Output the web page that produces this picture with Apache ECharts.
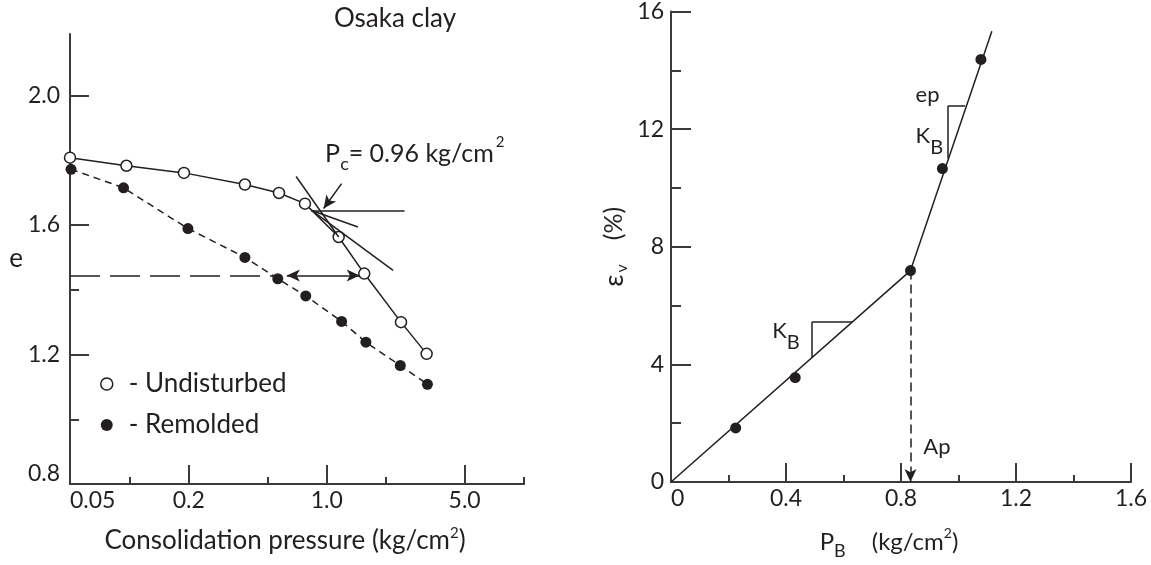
<!DOCTYPE html>
<html>
<head>
<meta charset="utf-8">
<script src="https://cdn.jsdelivr.net/npm/echarts@6/dist/echarts.min.js"></script>
<style>
  html, body { margin: 0; padding: 0; background: #fff; }
  #chart { width: 1151px; height: 565px; }
</style>
</head>
<body>
<div id="chart"></div>
<script>
// ---- Osaka clay: void ratio vs consolidation pressure (log scale) ----
const pUndisturbed = [0.05, 0.0966, 0.189, 0.385, 0.573, 0.776, 1.15, 1.55, 2.38, 3.21];
const eUndisturbed = [1.808, 1.783, 1.761, 1.725, 1.699, 1.666, 1.563, 1.450, 1.300, 1.202];
const pRemolded = [0.0506, 0.0934, 0.198, 0.385, 0.565, 0.783, 1.19, 1.58, 2.36, 3.24];
const eRemolded = [1.772, 1.715, 1.589, 1.500, 1.434, 1.381, 1.302, 1.238, 1.166, 1.108];

// pressure axis ticks / labels
const pMajorTicks = [0.2, 1, 5];
const pMinorTicks = [0.1, 0.5, 2, 10];
const pLabelValues = [0.05, 0.2, 1, 5];
const pLabelTexts = ['0.05', '0.2', '1.0', '5.0'];
const eMajorTicks = [0.8, 1.2, 1.6, 2.0];
const eMinorTicks = [1.0, 1.4];

// Casagrande construction for preconsolidation pressure
const pcValue = 0.96;
const pcPoint = [0.839, 1.645];        // point of maximum curvature
const pcHorizontalEnd = [2.48, 1.645];
const pcTangentEnd = [2.17, 1.460];
const pcBisectorEnd = [1.44, 1.594];
const pcVirginStart = [0.70, 1.750];
const pcArrowFrom = [1.19, 1.728];
const pcArrowTo = [0.965, 1.651];
const pcLabelAt = [0.976, 1.821];
const eLevel = 1.444;                 // equal void ratio comparison
const eLevelDashEnd = 0.59;
const eLevelArrow = [0.628, 1.47];

// ---- Volumetric strain vs P_B ----
const pB = [0.225, 0.432, 0.833, 0.944, 1.078];
const epsV = [1.84, 3.55, 7.19, 10.66, 14.37];
const pBFit = [0, 0.833, 1.116];
const epsFit = [0, 7.19, 15.33];
const pBMajorTicks = [0.4, 0.8, 1.2, 1.6];
const pBMinorTicks = [0.2, 0.6, 1.0, 1.4];
const pBLabelValues = [0, 0.4, 0.8, 1.2, 1.6];
const pBLabelTexts = ['0', '0.4', '0.8', '1.2', '1.6'];
const epsMajorTicks = [4, 8, 12, 16];
const epsMinorTicks = [2, 6, 10, 14];
const epsLabelValues = [0, 4, 8, 12, 16];

// slope triangles and yield arrow
const kbLow = { x1: 0.490, x2: 0.629, yLow: 4.23, yTop: 5.44 };
const kbHigh = { x1: 0.963, x2: 1.023, yLow: 11.0, yTop: 12.79 };
const apX = 0.833;
const kbLowLabel = [0.350, 5.15];
const epLabel = [0.849, 13.16];
const kbHighLabel = [0.849, 11.78];
const apLabel = [0.876, 1.19];

const FONT = 'Lato, "Open Sans", sans-serif';
const INK = '#231f20';
const AX = '#3a3a3a';
const TICK_FS = 23;

function labelFrom(values, texts) {
  return function (v) {
    for (let i = 0; i < values.length; i++) {
      if (Math.abs(v - values[i]) <= Math.abs(values[i]) * 1e-6 + 1e-9) return texts[i];
    }
    return '';
  };
}

function baseAxis(extra) {
  return Object.assign({
    splitLine: { show: false },
    axisLine: { show: true, lineStyle: { color: AX, width: 2 } },
    axisTick: { show: true, inside: true, length: 19, lineStyle: { color: AX, width: 2 } },
    axisLabel: { fontFamily: FONT, fontSize: TICK_FS, color: INK },
    nameTextStyle: { fontFamily: FONT, fontSize: 26, color: INK }
  }, extra);
}
function overlayAxis(extra, ticks, len) {
  return Object.assign({
    splitLine: { show: false },
    axisLine: { show: false },
    axisLabel: { show: false },
    axisTick: { show: true, inside: true, length: len, customValues: ticks, lineStyle: { color: AX, width: 2 } }
  }, extra);
}

const seg = (a, b, sa, sb, style) => [
  { coord: a, symbol: sa || 'none' },
  { coord: b, symbol: sb || 'none', lineStyle: style }
];
const thin = { color: INK, width: 1.5, type: 'solid' };

// plain annotation text attached to a data point
const noteLabel = (formatter, rich) => ({
  show: true, position: 'right', distance: 0, align: 'left', verticalAlign: 'middle',
  textBorderWidth: 0, color: INK, opacity: 1, formatter, rich
});

const chart = echarts.init(document.getElementById('chart'), null, { renderer: 'canvas' });

chart.setOption({
  animation: false,
  backgroundColor: '#fff',
  textStyle: { fontFamily: FONT, color: INK },
  title: {
    text: 'Osaka clay', left: 390, top: 1, textAlign: 'center',
    textStyle: { fontFamily: FONT, fontSize: 26, fontWeight: 'normal', color: INK }
  },
  legend: {
    left: 95, top: 364, orient: 'vertical', itemWidth: 22, itemHeight: 12, itemGap: 11,
    selectedMode: false,
    textStyle: { fontFamily: FONT, fontSize: 26, color: INK, lineHeight: 30, padding: [0, 0, 0, 6] },
    formatter: n => '- ' + n,
    data: [
      { name: 'Undisturbed', icon: 'circle', itemStyle: { color: '#fff', borderColor: INK, borderWidth: 1.5 } },
      { name: 'Remolded', icon: 'circle', itemStyle: { color: INK, borderWidth: 0 } }
    ]
  },
  grid: [
    { left: 70, top: 34, width: 454, height: 450 },
    { left: 671, top: 11, width: 460, height: 473 }
  ],
  xAxis: [
    baseAxis({
      type: 'log', logBase: 10, gridIndex: 0, min: 0.05, max: 10, position: 'bottom',
      axisTick: { show: true, inside: true, length: 19, customValues: pMajorTicks, lineStyle: { color: AX, width: 2 } },
      axisLabel: { customValues: pLabelValues, formatter: labelFrom(pLabelValues, pLabelTexts),
        fontFamily: FONT, fontSize: TICK_FS, color: INK, margin: 5, alignMinLabel: 'left' },
      name: '{n|Consolidation pressure (kg/cm}{sp|2}{n|)}',
      nameLocation: 'middle', nameGap: 40,
      nameTextStyle: {
        fontFamily: FONT, fontSize: 26, color: INK, padding: [0, 24, 0, 0],
        rich: {
          n: { fontFamily: FONT, fontSize: 26, lineHeight: 34, color: INK },
          sp: { fontFamily: FONT, fontSize: 15, lineHeight: 15, padding: [0, 0, 16, 0], color: INK }
        }
      }
    }),
    overlayAxis({ type: 'log', logBase: 10, gridIndex: 0, min: 0.05, max: 10, position: 'bottom' }, pMinorTicks, 7),
    baseAxis({
      type: 'value', gridIndex: 1, min: 0, max: 1.6, position: 'bottom',
      axisTick: { show: true, inside: true, length: 19, customValues: pBMajorTicks, lineStyle: { color: AX, width: 2 } },
      axisLabel: { customValues: pBLabelValues, formatter: labelFrom(pBLabelValues, pBLabelTexts),
        fontFamily: FONT, fontSize: TICK_FS, color: INK, margin: 5, alignMinLabel: 'left' },
      name: '{n|P}{sb|B}{g| }{n|(kg/cm}{sp|2}{n|)}',
      nameLocation: 'middle', nameGap: 42,
      nameTextStyle: {
        fontFamily: FONT, fontSize: 24, color: INK, padding: [0, 24, 0, 0],
        rich: {
          n: { fontFamily: FONT, fontSize: 24, lineHeight: 36, color: INK },
          sb: { fontFamily: FONT, fontSize: 18, lineHeight: 18, padding: [18, 0, 0, 0], color: INK },
          g: { width: 26 },
          sp: { fontFamily: FONT, fontSize: 14, lineHeight: 14, padding: [0, 0, 18, 0], color: INK }
        }
      }
    }),
    overlayAxis({ type: 'value', gridIndex: 1, min: 0, max: 1.6, position: 'bottom' }, pBMinorTicks, 7)
  ],
  yAxis: [
    baseAxis({
      type: 'value', gridIndex: 0, min: 0.8, max: 2.19, position: 'left',
      axisTick: { show: true, inside: true, length: 19, customValues: eMajorTicks, lineStyle: { color: AX, width: 2 } },
      axisLabel: {
        customValues: eMajorTicks, margin: 10, fontFamily: FONT, fontSize: TICK_FS, color: INK,
        formatter: v => Math.abs(v - 0.8) < 1e-9 ? '{lo|0.8}' : v.toFixed(1),
        rich: { lo: { fontFamily: FONT, fontSize: TICK_FS, color: INK, padding: [0, 0, 20, 0] } }
      },
      name: 'e', nameLocation: 'middle', nameRotate: 0, nameGap: 47,
      nameTextStyle: { fontFamily: FONT, fontSize: 26, color: INK, padding: [26, 0, 0, 0] }
    }),
    overlayAxis({ type: 'value', gridIndex: 0, min: 0.8, max: 2.19, position: 'left' }, eMinorTicks, 9),
    baseAxis({
      type: 'value', gridIndex: 1, min: 0, max: 16, position: 'left',
      axisTick: { show: true, inside: true, length: 20, customValues: epsMajorTicks, lineStyle: { color: AX, width: 2 } },
      axisLabel: { customValues: epsLabelValues, margin: 7, fontFamily: FONT, fontSize: TICK_FS, color: INK,
        formatter: v => String(Math.round(v)) },
      name: '{e|ε}{s|v}{g| }{n|(%)}', nameLocation: 'middle', nameRotate: 90, nameGap: 40,
      nameTextStyle: {
        fontFamily: FONT, fontSize: 25, color: INK,
        rich: {
          e: { fontFamily: FONT, fontSize: 27, lineHeight: 34, color: INK },
          s: { fontFamily: FONT, fontSize: 16, lineHeight: 16, padding: [16, 0, 0, 2], color: INK },
          g: { width: 24 },
          n: { fontFamily: FONT, fontSize: 25, lineHeight: 34, color: INK }
        }
      }
    }),
    overlayAxis({ type: 'value', gridIndex: 1, min: 0, max: 16, position: 'left' }, epsMinorTicks, 10)
  ],
  series: [
    {
      name: 'Undisturbed', type: 'line', xAxisIndex: 0, yAxisIndex: 0, z: 4,
      data: pUndisturbed.map((p, i) => [p, eUndisturbed[i]]),
      symbol: 'circle', symbolSize: 11,
      itemStyle: { color: '#fff', borderColor: INK, borderWidth: 1.5, opacity: 1 },
      lineStyle: { color: INK, width: 1.5 },
      emphasis: { disabled: true }
    },
    {
      name: 'Remolded', type: 'line', xAxisIndex: 0, yAxisIndex: 0, z: 4,
      data: pRemolded.map((p, i) => [p, eRemolded[i]]),
      symbol: 'circle', symbolSize: 11,
      itemStyle: { color: INK, borderWidth: 0, opacity: 1 },
      lineStyle: { color: INK, width: 1.5, type: [7, 5] },
      emphasis: { disabled: true }
    },
    {
      name: 'construction', type: 'line', xAxisIndex: 0, yAxisIndex: 0, data: [], z: 3,
      markLine: {
        silent: true, animation: false, symbol: ['none', 'none'], symbolSize: [9, 13],
        label: { show: false }, emphasis: { disabled: true },
        lineStyle: thin,
        data: [
          seg(pcPoint, pcHorizontalEnd, null, null, thin),
          seg(pcPoint, pcTangentEnd, null, null, thin),
          seg(pcPoint, pcBisectorEnd, null, null, thin),
          seg(pcVirginStart, [pUndisturbed[6], eUndisturbed[6]], null, null, thin),
          seg(pcArrowFrom, pcArrowTo, 'none', 'arrow', thin),
          seg([0.05, eLevel], [eLevelDashEnd, eLevel], null, null, { color: INK, width: 1.5, type: [30, 10] }),
          seg([eLevelArrow[0], eLevel], [eLevelArrow[1], eLevel], 'arrow', 'arrow', thin)
        ]
      }
    },
    {
      name: 'pc-note', type: 'scatter', xAxisIndex: 0, yAxisIndex: 0, silent: true,
      symbolSize: 1, itemStyle: { color: 'rgba(0,0,0,0)', opacity: 1 },
      data: [{ value: pcLabelAt, pc: pcValue }],
      label: noteLabel(p => '{m|P}{sb|c}{m|= ' + p.data.pc.toFixed(2) + ' kg/cm}{sp|2}', {
        m: { fontFamily: FONT, fontSize: 25, lineHeight: 40, color: INK },
        sb: { fontFamily: FONT, fontSize: 18, lineHeight: 18, padding: [21, 0, 0, 0], color: INK },
        sp: { fontFamily: FONT, fontSize: 15, lineHeight: 15, padding: [0, 0, 22, 2], color: INK }
      })
    },
    {
      name: 'strain', type: 'scatter', xAxisIndex: 2, yAxisIndex: 2, z: 5,
      data: pB.map((p, i) => [p, epsV[i]]),
      symbol: 'circle', symbolSize: 11, itemStyle: { color: INK, opacity: 1 },
      emphasis: { disabled: true }
    },
    {
      name: 'fit', type: 'line', xAxisIndex: 2, yAxisIndex: 2, z: 3,
      data: pBFit.map((p, i) => [p, epsFit[i]]),
      symbol: 'none', lineStyle: { color: INK, width: 1.5 },
      emphasis: { disabled: true },
      markLine: {
        silent: true, animation: false, symbol: ['none', 'none'], symbolSize: [9, 13],
        label: { show: false }, emphasis: { disabled: true },
        lineStyle: thin,
        data: [
          seg([kbLow.x1, kbLow.yLow], [kbLow.x1, kbLow.yTop], null, null, thin),
          seg([kbLow.x1, kbLow.yTop], [kbLow.x2, kbLow.yTop], null, null, thin),
          seg([kbHigh.x1, kbHigh.yLow], [kbHigh.x1, kbHigh.yTop], null, null, thin),
          seg([kbHigh.x1, kbHigh.yTop], [kbHigh.x2, kbHigh.yTop], null, null, thin),
          seg([apX, epsV[2]], [apX, 0], 'none', 'arrow', { color: INK, width: 1.5, type: [9, 5] })
        ]
      }
    },
    {
      name: 'notes', type: 'scatter', xAxisIndex: 2, yAxisIndex: 2, silent: true,
      symbolSize: 1, itemStyle: { color: 'rgba(0,0,0,0)', opacity: 1 },
      label: noteLabel(p => p.data.t, {
        k: { fontFamily: FONT, fontSize: 22, lineHeight: 44, color: INK },
        b: { fontFamily: FONT, fontSize: 20, lineHeight: 20, padding: [24, 0, 0, 0], color: INK },
        t: { fontFamily: FONT, fontSize: 22, lineHeight: 30, color: INK }
      }),
      data: [
        { value: kbLowLabel, t: '{k|K}{b|B}' },
        { value: kbHighLabel, t: '{k|K}{b|B}' },
        { value: epLabel, t: '{t|ep}' },
        { value: apLabel, t: '{t|Ap}' }
      ]
    }
  ]
});
</script>
</body>
</html>
